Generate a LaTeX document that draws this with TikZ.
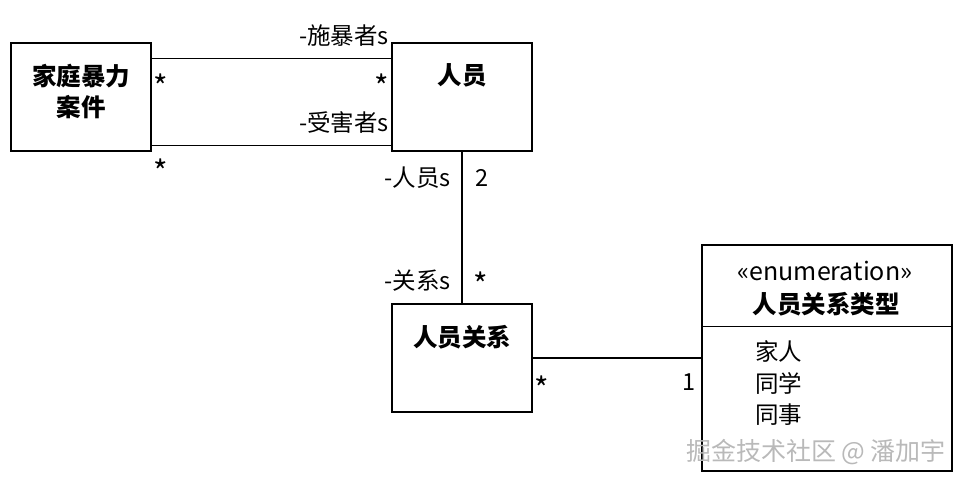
\documentclass[tikz,border=0pt]{standalone}
\usepackage{fontspec}
\setmainfont{Noto Sans CJK SC}
\usetikzlibrary{positioning}

\begin{document}
\begin{tikzpicture}[x=1pt,y=-1pt,
    box/.style={draw,line width=1.3pt,minimum width=140pt,minimum height=108pt,inner sep=0pt},
    txt/.style={inner sep=0pt,font=\fontsize{23.5}{31}\selectfont},
    bold/.style={inner sep=0pt,font=\fontsize{24.5}{31}\selectfont\bfseries},
    star/.style={inner sep=0pt,font=\fontsize{31}{31}\selectfont},
    conn/.style={line width=1.3pt}]
    \useasboundingbox (0,0) rectangle (963,482);

    % Classes
    \node[box] (case) at (81,97) {};
    \node[box] (person) at (462,97) {};
    \node[box] (rel) at (462,358) {};
    \node[box,minimum width=250pt,minimum height=226pt] (enum) at (827,358) {};
    \draw[conn] ([yshift=-82pt]enum.north west) -- ([yshift=-82pt]enum.north east);

    % Titles
    \node[bold,align=center] (caseT) at (81,91) {家庭暴力\\案件};
    \node[bold] (personT) at (462,75) {人员};
    \node[bold] (relT) at (462,337) {人员关系};
    \node[txt,font=\fontsize{25}{31}\selectfont] (stereo) at (825,271) {«enumeration»};
    \node[bold] (enumT) at (826,304) {人员关系类型};

    % Literals
    \foreach \val [count=\i] in {家人,同学,同事}
        \node[txt,anchor=west] (lit\i) at (755,319+32*\i) {\val};

    % Associations
    \draw[conn] ([yshift=-16pt]case.north east) -- ([yshift=-16pt]person.north west);
    \draw[conn] ([yshift=6pt]case.south east) -- ([yshift=6pt]person.south west);
    \draw[conn] (person.south) -- (rel.north);
    \draw[conn] (rel.east) -- (rel.east -| enum.west);

    % Roles and multiplicities
    \node[txt,anchor=east] (abuser) at (389,36) {-施暴者s};
    \node[txt,anchor=east] (victim) at (389,122) {-受害者s};
    \node[star] (m1) at (161,86) {*};
    \node[star] (m2) at (382,86) {*};
    \node[star] (m3) at (161,171) {*};
    \node[txt,anchor=east] (persons) at (451,178) {-人员s};
    \node[txt] (m4) at (482,178) {2};
    \node[txt,anchor=east] (rels) at (451,281) {-关系s};
    \node[star] (m5) at (481,284) {*};
    \node[star] (m6) at (542,388) {*};
    \node[txt] (m7) at (689,382) {1};

    % Watermark
    \node[inner sep=0pt,text=gray!55,font=\fontsize{25}{25}\selectfont] (mark) at (816,452) {掘金技术社区 @ 潘加宇};
\end{tikzpicture}
\end{document}
